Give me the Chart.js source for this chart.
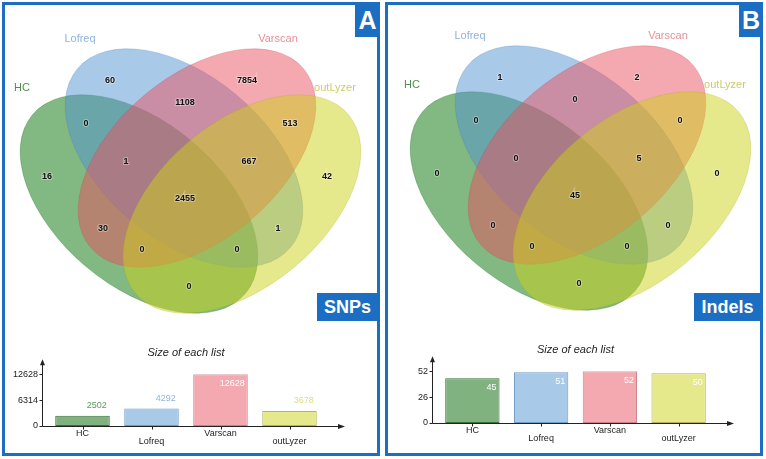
<!DOCTYPE html>
<html>
<head>
<meta charset="utf-8">
<script src="https://cdn.jsdelivr.net/npm/chart.js@4.4.1/dist/chart.umd.min.js"></script>
<style>
  html, body { margin: 0; padding: 0; background: #ffffff; }
  body { width: 766px; height: 459px; position: relative; overflow: hidden; font-family: "Liberation Sans", Arial, sans-serif; }
  .panel { position: absolute; top: 2px; width: 372px; height: 448px; border: 3px solid #1b6ec2; }
  canvas { position: absolute; }
  .tag { position: absolute; background: #1b6ec2; color: #fff; font-weight: bold; text-align: center; z-index: 5; }
</style>
</head>
<body>
<div class="panel" style="left:2px;"></div>
<div class="panel" style="left:385px;"></div>

<canvas id="vennA" width="383" height="330" style="left:0px;top:0px;"></canvas>
<canvas id="vennB" width="376" height="330" style="left:390px;top:0px;"></canvas>
<canvas id="barA" width="383" height="115" style="left:0px;top:340px;"></canvas>
<canvas id="barB" width="376" height="115" style="left:390px;top:337px;"></canvas>

<div class="tag" style="left:355px;top:2px;width:25px;height:35px;line-height:37px;font-size:25px;">A</div>
<div class="tag" style="left:739px;top:2px;width:24px;height:35px;line-height:37px;font-size:25px;">B</div>
<div class="tag" style="left:317px;top:293px;width:61px;height:28px;line-height:29px;font-size:18px;">SNPs</div>
<div class="tag" style="left:694px;top:293px;width:67px;height:28px;line-height:29px;font-size:18px;">Indels</div>

<script>
// ---------------- DATA ----------------
const setNames = ['HC', 'Lofreq', 'Varscan', 'outLyzer'];
// region membership keys: H=HC, L=Lofreq, V=Varscan, O=outLyzer
const regionKeys = ['H', 'L', 'V', 'O', 'HL', 'HV', 'HO', 'LV', 'LO', 'VO', 'HLV', 'HLO', 'HVO', 'LVO', 'HLVO'];
const snpCounts   = [16, 60, 7854, 42, 0, 30, 0, 1108, 1, 513, 1, 0, 0, 667, 2455];
const indelCounts = [0, 1, 2, 0, 0, 0, 0, 0, 0, 0, 0, 0, 0, 5, 45];
const snpSizes   = [2502, 4292, 12628, 3678];
const indelSizes = [45, 51, 52, 50];
const snpTicks   = [0, 6314, 12628];
const indelTicks = [0, 26, 52];
const panelTitle = 'Size of each list';

// ---------------- LAYOUT / STYLE ----------------
const FONT = '"Liberation Sans", Arial, sans-serif';
Chart.defaults.font.family = FONT;

const regionPos = {
  H: [47, 177], L: [110, 81], V: [247, 81], O: [327, 177],
  HL: [86, 124], HV: [103, 229], HO: [189, 287], LV: [185, 103], LO: [278, 229], VO: [290, 124],
  HLV: [126, 162], HLO: [237, 250], HVO: [142, 250], LVO: [249, 162], HLVO: [185, 199]
};
const ellipseGeom = [
  { cx: 139, cy: 204, rot: 40 },
  { cx: 184, cy: 158, rot: 40 },
  { cx: 197, cy: 158, rot: -40 },
  { cx: 242, cy: 204, rot: -40 }
];
const ellA = 139, ellB = 82;
const ellFill = ['rgba(5,113,5,0.5)', 'rgba(83,147,209,0.5)', 'rgba(233,81,97,0.5)', 'rgba(205,209,25,0.5)'];
const ellLine = ['rgba(5,90,5,0.25)', 'rgba(60,120,190,0.25)', 'rgba(200,60,80,0.25)', 'rgba(170,170,20,0.25)'];
const setLabelPos = [[22, 88], [80, 39], [278, 39], [335, 88]];
const setLabelColor = ['#4f8f4f', '#8fb3db', '#e4909a', '#cccc66'];

const barFill = ['#7fb27f', '#a9c9e8', '#f4a8b0', '#e6e88c'];
const barLine = ['#3c6e3c', '#6f9bc9', '#c9808a', '#b5b55e'];
const valueColor = ['#5b9b5b', '#93b4da', '#f0b8be', '#dede7a'];

// ---------------- VENN ----------------
const vennPlugin = {
  id: 'venn',
  beforeDatasetsDraw(chart) {
    const { ctx, scales: { x, y } } = chart;
    ctx.save();
    ellipseGeom.forEach((e, i) => {
      const cx = x.getPixelForValue(e.cx), cy = y.getPixelForValue(e.cy);
      const rx = Math.abs(x.getPixelForValue(e.cx + ellA) - cx);
      const ry = Math.abs(y.getPixelForValue(e.cy + ellB) - cy);
      ctx.beginPath();
      ctx.ellipse(cx, cy, rx, ry, e.rot * Math.PI / 180, 0, Math.PI * 2);
      ctx.fillStyle = ellFill[i];
      ctx.fill();
      ctx.strokeStyle = ellLine[i];
      ctx.lineWidth = 1;
      ctx.stroke();
    });
    ctx.font = '11px ' + FONT;
    ctx.textAlign = 'center';
    ctx.textBaseline = 'middle';
    setNames.forEach((n, i) => {
      ctx.fillStyle = setLabelColor[i];
      ctx.fillText(n, x.getPixelForValue(setLabelPos[i][0]), y.getPixelForValue(setLabelPos[i][1]));
    });
    ctx.restore();
  },
  afterDatasetsDraw(chart) {
    const { ctx } = chart;
    const meta = chart.getDatasetMeta(0);
    const counts = chart.data.datasets[0].counts;
    ctx.save();
    ctx.font = 'bold 9px ' + FONT;
    ctx.textAlign = 'center';
    ctx.textBaseline = 'middle';
    meta.data.forEach((pt, i) => {
      ctx.lineWidth = 2;
      ctx.strokeStyle = 'rgba(255,255,255,0.35)';
      ctx.strokeText(String(counts[i]), pt.x, pt.y);
      ctx.fillStyle = '#111';
      ctx.fillText(String(counts[i]), pt.x, pt.y);
    });
    ctx.restore();
  }
};

function makeVenn(id, counts, dy) {
  const cv = document.getElementById(id);
  new Chart(cv, {
    type: 'scatter',
    data: {
      datasets: [{
        counts: counts,
        data: regionKeys.map(k => ({ x: regionPos[k][0], y: regionPos[k][1] })),
        pointRadius: 0,
        pointHoverRadius: 0
      }]
    },
    options: {
      responsive: false, animation: false, devicePixelRatio: 1,
      layout: { padding: 0 },
      plugins: { legend: { display: false }, tooltip: { enabled: false } },
      scales: {
        x: { type: 'linear', display: false, min: 0, max: cv.width },
        y: { type: 'linear', display: false, reverse: true, min: dy, max: dy + cv.height }
      }
    },
    plugins: [vennPlugin]
  });
}

// ---------------- BARS ----------------
const axisPlugin = {
  id: 'arrowAxes',
  afterDraw(chart) {
    const { ctx, chartArea: ca, scales: { x, y } } = chart;
    const x0 = Math.round(ca.left - 6) + 0.5;
    const yb = Math.round(ca.bottom) + 0.5;
    const yTop = ca.top - 15;
    const xEnd = ca.right + 21;
    ctx.save();
    ctx.strokeStyle = '#222';
    ctx.fillStyle = '#222';
    ctx.lineWidth = 1;
    ctx.beginPath();
    ctx.moveTo(x0, yb); ctx.lineTo(x0, yTop + 5);
    ctx.moveTo(x0, yb); ctx.lineTo(xEnd - 6, yb);
    y.ticks.forEach(t => {
      const py = Math.round(y.getPixelForValue(t.value)) + 0.5;
      ctx.moveTo(x0 - 3, py); ctx.lineTo(x0, py);
    });
    x.ticks.forEach((t, i) => {
      const px = Math.round(x.getPixelForValue(i)) + 0.5;
      ctx.moveTo(px, yb); ctx.lineTo(px, yb + 3);
    });
    ctx.stroke();
    ctx.beginPath();
    ctx.moveTo(x0, yTop); ctx.lineTo(x0 - 2.5, yTop + 6); ctx.lineTo(x0 + 2.5, yTop + 6); ctx.closePath();
    ctx.fill();
    ctx.beginPath();
    ctx.moveTo(xEnd, yb); ctx.lineTo(xEnd - 7, yb - 2.5); ctx.lineTo(xEnd - 7, yb + 2.5); ctx.closePath();
    ctx.fill();
    ctx.restore();
  }
};

const valuePlugin = {
  id: 'barValues',
  afterDatasetsDraw(chart) {
    const { ctx } = chart;
    const meta = chart.getDatasetMeta(0);
    const vals = chart.data.datasets[0].data;
    const max = chart.scales.y.max;
    ctx.save();
    ctx.font = '9px ' + FONT;
    ctx.textAlign = 'right';
    ctx.textBaseline = 'middle';
    meta.data.forEach((bar, i) => {
      const inside = vals[i] / max > 0.8;
      ctx.fillStyle = inside ? '#ffffff' : valueColor[i];
      const xr = bar.x + bar.width / 2 - 3;
      const yy = inside ? bar.y + 9 : bar.y - 10;
      ctx.fillText(String(vals[i]), xr, yy);
    });
    ctx.restore();
  }
};

function makeBars(id, sizes, ticks, padRight) {
  const cv = document.getElementById(id);
  new Chart(cv, {
    type: 'bar',
    data: {
      labels: setNames.map((n, i) => (i % 2 ? ['', n] : [n])),
      datasets: [{
        data: sizes,
        backgroundColor: barFill,
        borderColor: barLine,
        borderWidth: 1,
        borderSkipped: false,
        barPercentage: 0.79,
        categoryPercentage: 1
      }]
    },
    options: {
      responsive: false, animation: false, devicePixelRatio: 1,
      layout: { padding: { left: 0, right: padRight, top: 0, bottom: 9 } },
      plugins: {
        legend: { display: false },
        tooltip: { enabled: false },
        title: {
          display: true, text: panelTitle, fullSize: false,
          color: '#222', font: { size: 11, style: 'italic', weight: 'normal' },
          padding: { top: 6, bottom: 15 }
        }
      },
      scales: {
        x: {
          grid: { display: false, drawTicks: false },
          border: { display: false },
          ticks: { color: '#222', font: { size: 9, lineHeight: 0.78 }, padding: 4.5, maxRotation: 0, autoSkip: false },
          afterFit: s => { s.height = 20; }
        },
        y: {
          min: 0, max: ticks[ticks.length - 1],
          grid: { display: false, drawTicks: false },
          border: { display: false },
          afterBuildTicks: s => { s.ticks = ticks.map(v => ({ value: v })); },
          ticks: { color: '#222', font: { size: 9 }, padding: 10, callback: v => String(v) },
          afterFit: s => { s.width = 48; }
        }
      }
    },
    plugins: [axisPlugin, valuePlugin]
  });
}

makeVenn('vennA', snpCounts, 0);
makeVenn('vennB', indelCounts, 3);
makeBars('barA', snpSizes, snpTicks, 59);
makeBars('barB', indelSizes, indelTicks, 53);
</script>
</body>
</html>
